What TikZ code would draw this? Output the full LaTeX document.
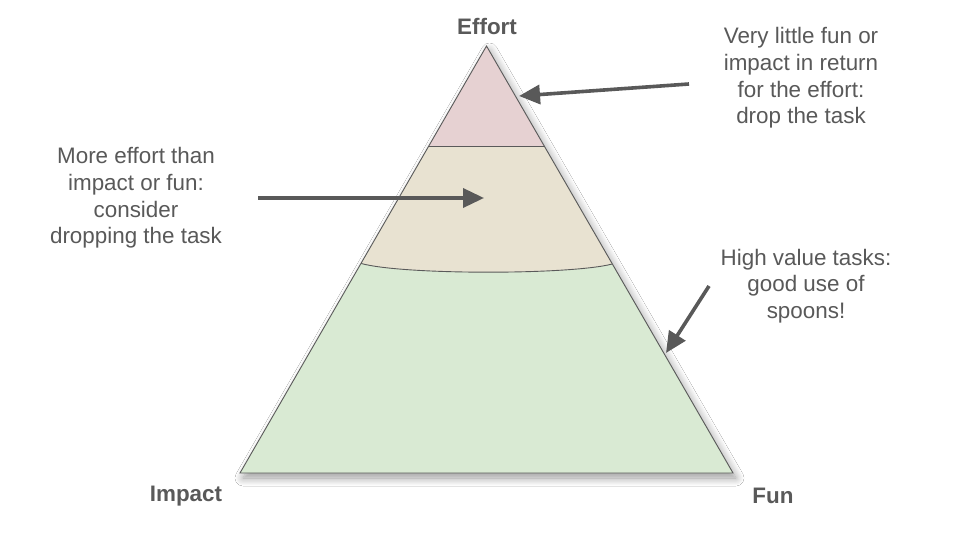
\documentclass[tikz,border=0pt]{standalone}
\usepackage{fontspec}
\setmainfont{Liberation Sans}
\usetikzlibrary{arrows.meta,shadows.blur}
\definecolor{txtgray}{HTML}{595959}
\definecolor{linegray}{HTML}{5A5A5A}
\definecolor{pinkfill}{HTML}{E6D1D2}
\definecolor{beigefill}{HTML}{E8E2D1}
\definecolor{greenfill}{HTML}{D9EAD3}
\tikzset{
  lbl/.style={text=txtgray, font=\fontsize{22.4}{26.7}\selectfont\bfseries, inner sep=0pt},
  note/.style={text=txtgray, font=\fontsize{22.4}{26.7}\selectfont, align=center, inner sep=0pt},
  band/.style={draw=linegray, line width=0.9pt, line join=miter},
  pointer/.style={draw=txtgray, line width=3.6pt, -{Triangle[length=21pt,width=19pt]}, shorten >=0pt},
}
\begin{document}
\begin{tikzpicture}[x=1pt,y=-1pt]
\useasboundingbox[fill=white] (0,0) rectangle (960,540);
% triangle geometry
\coordinate (apex) at (486.5,46);
\coordinate (bl) at (240,473);
\coordinate (br) at (733,473);
\coordinate (l1) at (428.8,146);
\coordinate (r1) at (544.2,146);
\coordinate (l2) at (361.2,263.5);
\coordinate (r2) at (612.3,264);
% whole triangle with shadow (green)
\path[blur shadow={shadow xshift=3pt, shadow yshift=-5pt, shadow blur radius=8pt, shadow blur steps=12, shadow opacity=40}, fill=greenfill] (apex) -- (br) -- (bl) -- cycle;
% beige band
\fill[beigefill] (l1) -- (r1) -- (r2) .. controls (570,275) and (403,275) .. (l2) -- cycle;
% pink top
\fill[pinkfill] (apex) -- (r1) -- (l1) -- cycle;
% outlines
\draw[band] (apex) -- (br) -- (bl) -- cycle;
\draw[band] (l1) -- (r1);
\draw[band] (r2) .. controls (570,275) and (403,275) .. (l2);
% labels
\node[lbl] (effort) at (487,26) {Effort};
\node[lbl] (impact) at (186,496) {Impact};
\node[lbl] (fun) at (773,496) {Fun};
% notes
\node[note] (top) at (801,78) {Very little fun or\\impact in return\\for the effort:\\drop the task};
\node[note] (mid) at (136,198) {More effort than\\impact or fun:\\consider\\dropping the task};
\node[note] (high) at (806,286) {High value tasks:\\good use of\\spoons!};
% arrows
\coordinate (t1) at (689,84);
\coordinate (t2) at (519,96);
\coordinate (m1) at (258,198);
\coordinate (m2) at (484,198);
\coordinate (h1) at (709,286);
\coordinate (h2) at (666,353);
\draw[pointer] (t1) -- (t2);
\draw[pointer] (m1) -- (m2);
\draw[pointer] (h1) -- (h2);
\end{tikzpicture}
\end{document}
